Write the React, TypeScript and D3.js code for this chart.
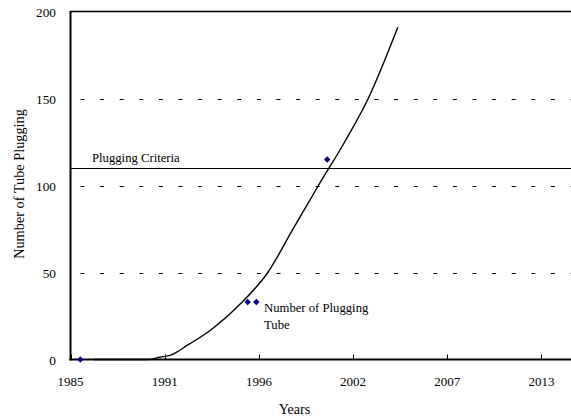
import React from "react";
import * as d3 from "d3";

const xTickValues = [1985, 1990.6, 1996.2, 2001.8, 2007.4, 2013];
const xTickLabels = ["1985", "1991", "1996", "2002", "2007", "2013"];
const yTickValues = [0, 50, 100, 150, 200];

const curveYears = [1986.4, 1988.0, 1989.6, 1990.3, 1991.0, 1992.0, 1993.3, 1995.1, 1996.73, 1998.2, 1999.74, 2001.3, 2002.7, 2004.46];
const curveValues = [0, 0, 0, 1.3, 2.7, 8.5, 16.7, 32, 50, 74.5, 100, 125, 150, 191];

const pointYears = [1985.58, 1995.53, 1996.05, 2000.26];
const pointValues = [0, 33, 33, 115];

const criteriaValue = 110;
const criteriaLabel = "Plugging Criteria";
const seriesLabelLines = ["Number of Plugging", "Tube"];
const xTitle = "Years";
const yTitle = "Number of Tube Plugging";

const W = 571;
const H = 419;
const FONT = "'Times New Roman', 'Liberation Serif', Tinos, 'DejaVu Serif', serif";

export default function App() {
  const x = d3.scaleLinear().domain([1985, 2018.6]).range([70.5, 70.5 + 33.6 * 16.82]);
  const y = d3.scaleLinear().domain([0, 200]).range([359.5, 11.5]);
  const x0 = x(1985);
  const xEnd = W + 5;

  const line = d3
    .line<number>()
    .x((_, i) => x(curveYears[i]))
    .y((v) => y(v))
    .curve(d3.curveMonotoneX);
  const curvePath = line(curveValues) || "";

  const diamond = d3.symbol().type(d3.symbolDiamond2).size(27)() || "";

  return (
    <svg
      width={W}
      height={H}
      style={{ position: "absolute", left: 0, top: 0, display: "block", background: "#fff" }}
    >
      <rect x={0} y={0} width={W} height={H} fill="#fff" />
      {yTickValues
        .filter((v) => v > 0 && v < 200)
        .map((v) => (
          <line
            key={"g" + v}
            x1={x0}
            x2={xEnd}
            y1={Math.round(y(v)) + 0.5}
            y2={Math.round(y(v)) + 0.5}
            stroke="#000"
            strokeWidth={1}
            strokeDasharray="4,15.6"
            strokeDashoffset={-10}
          />
        ))}
      <line x1={x0} x2={xEnd} y1={y(200)} y2={y(200)} stroke="#000" strokeWidth={1.5} />
      <line x1={x0} x2={xEnd} y1={Math.round(y(criteriaValue)) + 0.5} y2={Math.round(y(criteriaValue)) + 0.5} stroke="#000" strokeWidth={1} />
      <text x={92} y={y(criteriaValue) - 6} fontSize={12.7} fill="#000" fontFamily={FONT}>
        {criteriaLabel}
      </text>
      <path d={curvePath} fill="none" stroke="#000" strokeWidth={1.4} />
      <line x1={x0} x2={x0} y1={y(200) - 0.5} y2={y(0) + 1} stroke="#000" strokeWidth={2} />
      <line x1={x0 - 1} x2={xEnd} y1={y(0)} y2={y(0)} stroke="#000" strokeWidth={2} />
      {xTickValues.map((v, i) => (
        <g key={"xt" + i}>
          <line x1={Math.round(x(v)) + 0.5} x2={Math.round(x(v)) + 0.5} y1={y(0)} y2={y(0) - 5} stroke="#000" strokeWidth={1} />
          <text x={x(v)} y={386} textAnchor="middle" fontSize={13} fill="#000" fontFamily={FONT}>
            {xTickLabels[i]}
          </text>
        </g>
      ))}
      {yTickValues.map((v) => (
        <text key={"yt" + v} x={56} y={y(v) + 5.5} textAnchor="end" fontSize={13.3} fill="#000" fontFamily={FONT}>
          {v}
        </text>
      ))}
      {pointValues.map((v, i) => (
        <path key={"p" + i} d={diamond} transform={`translate(${x(pointYears[i])},${y(v)})`} fill="#000080" />
      ))}
      <text x={264} y={312} fontSize={12.7} fill="#000" fontFamily={FONT}>
        <tspan x={264} dy={0}>{seriesLabelLines[0]}</tspan>
        <tspan x={264} dy={17}>{seriesLabelLines[1]}</tspan>
      </text>
      <text x={294.5} y={414} textAnchor="middle" fontSize={14.2} fill="#000" fontFamily={FONT}>
        {xTitle}
      </text>
      <text transform={`translate(24,184) rotate(-90)`} textAnchor="middle" fontSize={14.3} fill="#000" fontFamily={FONT}>
        {yTitle}
      </text>
    </svg>
  );
}
